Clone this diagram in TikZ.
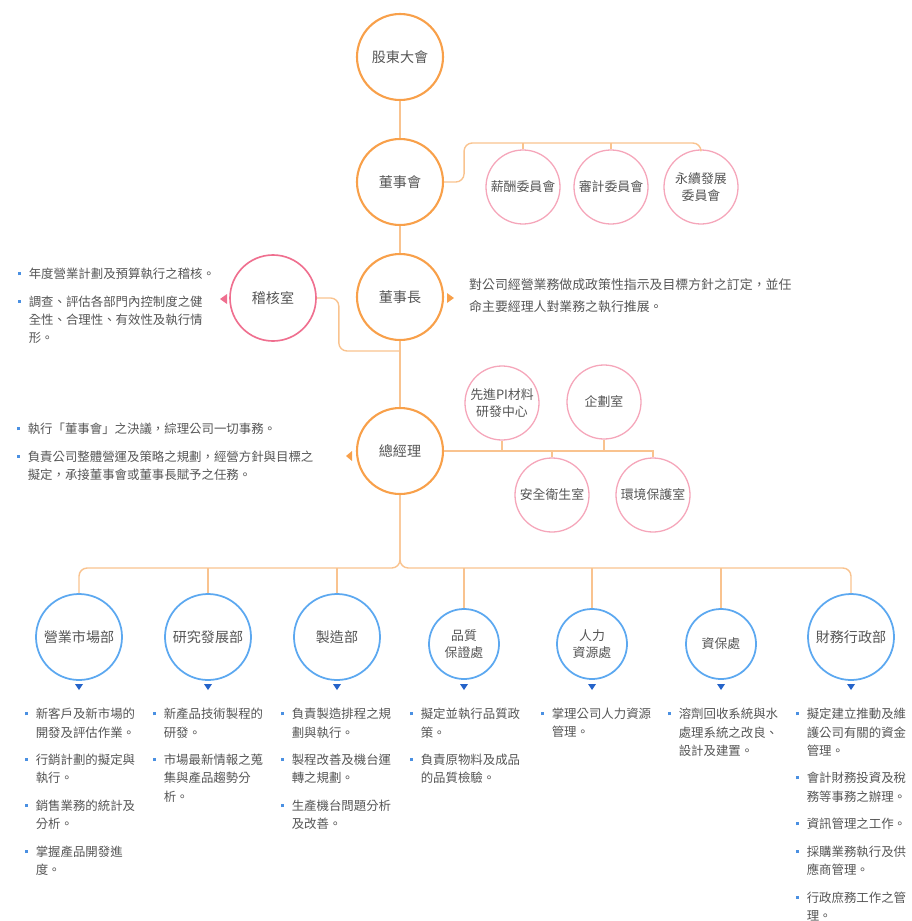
\documentclass[tikz,border=0pt]{standalone}
\usepackage{fontspec}
\setmainfont{Noto Sans CJK TC}

\definecolor{orangeC}{HTML}{F8A04A}
\definecolor{lineO}{HTML}{F9C38F}
\definecolor{pinkC}{HTML}{F5A6BA}
\definecolor{pinkD}{HTML}{EF6F8F}
\definecolor{blueC}{HTML}{5CA8F0}
\definecolor{tipB}{HTML}{2563C9}
\definecolor{textG}{HTML}{555555}
\definecolor{bulB}{HTML}{4A90E2}

% one bullet item of a list
\newcommand{\itm}[1]{\hangindent=9pt\hangafter=1\noindent\makebox[9pt][l]{\textcolor{bulB}{\rule[0.28em]{2.6pt}{2.6pt}}}#1\par\vspace{8pt}}

\begin{document}
\begin{tikzpicture}[x=0.03cm, y=-0.03cm,
    main node/.style={circle, draw=orangeC, line width=1.8pt, minimum size=2.58cm, inner sep=0, align=center, text=textG, font=\fontsize{12}{15}\selectfont},
    sub node/.style={circle, draw=pinkC, line width=1.1pt, minimum size=2.22cm, inner sep=0, align=center, text=textG, font=\fontsize{11}{14}\selectfont},
    dept node/.style={circle, draw=blueC, line width=1.5pt, minimum size=2.58cm, inner sep=0, align=center, text=textG, font=\fontsize{12}{15}\selectfont},
    link/.style={draw=lineO, line width=1.2pt},
    list/.style={anchor=north west, inner sep=0, text width=3.4cm, text=textG, font=\fontsize{10.6}{15.6}\selectfont}]
  \useasboundingbox (0,0) rectangle (911,921);

  \node[main node] (1) at (400,57) {股東大會};
  \node[main node] (2) at (400,182) {董事會};
  \node[main node] (3) at (400,297) {董事長};
  \node[main node, draw=pinkD, line width=1.4pt] (4) at (273,298) {稽核室};
  \node[main node] (5) at (400,451) {總經理};

  \node[sub node] (6) at (523,187) {薪酬委員會};
  \node[sub node] (7) at (611,187) {審計委員會};
  \node[sub node] (8) at (701,187) {永續發展\\委員會};

  \node[sub node] (9) at (502,403) {先進PI材料\\研發中心};
  \node[sub node] (10) at (604,402) {企劃室};
  \node[sub node] (11) at (552,495) {安全衛生室};
  \node[sub node] (12) at (653,495) {環境保護室};

  \node[dept node] (13) at (79,637) {營業市場部};
  \node[dept node] (14) at (208,637) {研究發展部};
  \node[dept node] (15) at (337,637) {製造部};
  \node[dept node, minimum size=2.1cm, font=\fontsize{11}{14}\selectfont] (16) at (464,644) {品質\\保證處};
  \node[dept node, minimum size=2.1cm, font=\fontsize{11}{14}\selectfont] (17) at (592,644) {人力\\資源處};
  \node[dept node, minimum size=2.1cm, font=\fontsize{11}{14}\selectfont] (18) at (721,644) {資保處};
  \node[dept node] (19) at (851,637) {財務行政部};

  \coordinate (cbus) at (701,143);
  \coordinate (jaud) at (400,351);
  \coordinate (dbus) at (400,568);

  % main line
  \path[link] (1) edge (2)
              (2) edge (3)
              (3) edge (5);

  % committees
  \draw[link] (2.east) [rounded corners=7pt] -- ++(20,0) |- (cbus) [sharp corners] -- (8.north);
  \draw[link] (6.north) -- (6 |- cbus);
  \draw[link] (7.north) -- (7 |- cbus);

  % audit
  \draw[link, rounded corners=7pt] (4.east) -- ++(22,0) |- (jaud);

  % offices of the president
  \draw[link] (5.east) -| (12.north);
  \draw[link] (9.south) -- (9 |- 5.east);
  \draw[link] (10.south) -- (10 |- 5.east);
  \draw[link] (11.north) -- (11 |- 5.east);

  % departments
  \draw[link, rounded corners=7pt] (13.north) |- (dbus) -- (5.south);
  \draw[link, rounded corners=7pt] (5.south) -- (dbus) -| (19.north);
  \draw[link] (14.north) -- (14 |- dbus);
  \draw[link] (15.north) -- (15 |- dbus);
  \draw[link] (16.north) -- (16 |- dbus);
  \draw[link] (17.north) -- (17 |- dbus);
  \draw[link] (18.north) -- (18 |- dbus);

  % small tips
  \fill[orangeC] (447,293) -- (454,298) -- (447,303) -- cycle;
  \fill[pinkD] (227,294) -- (220,299) -- (227,304) -- cycle;
  \fill[orangeC] (352,451) -- (346,456) -- (352,461) -- cycle;
  \fill[tipB] (75,684) -- (83,684) -- (79,690) -- cycle;
  \fill[tipB] (204,684) -- (212,684) -- (208,690) -- cycle;
  \fill[tipB] (333,684) -- (341,684) -- (337,690) -- cycle;
  \fill[tipB] (460,684) -- (468,684) -- (464,690) -- cycle;
  \fill[tipB] (588,684) -- (596,684) -- (592,690) -- cycle;
  \fill[tipB] (717,684) -- (725,684) -- (721,690) -- cycle;
  \fill[tipB] (847,684) -- (855,684) -- (851,690) -- cycle;

  % texts
  \node[list, text width=6cm] (t4) at (18,268) {\itm{年度營業計劃及預算執行之稽核。}\itm{調查、評估各部門內控制度之健\newline 全性、合理性、有效性及執行情\newline 形。}};
  \node[list, text width=10cm, font=\fontsize{11}{18.8}\selectfont] (t3) at (469,278) {對公司經營業務做成政策性指示及目標方針之訂定，並任\newline 命主要經理人對業務之執行推展。};
  \node[list, text width=9cm] (t5) at (17,423) {\itm{執行「董事會」之決議，綜理公司一切事務。}\itm{負責公司整體營運及策略之規劃，經營方針與目標之\newline 擬定，承接董事會或董事長賦予之任務。}};

  \node[list] (t13) at (25,708) {\itm{新客戶及新市場的\newline 開發及評估作業。}\itm{行銷計劃的擬定與\newline 執行。}\itm{銷售業務的統計及\newline 分析。}\itm{掌握產品開發進\newline 度。}};
  \node[list] (t14) at (153,708) {\itm{新產品技術製程的\newline 研發。}\itm{市場最新情報之蒐\newline 集與產品趨勢分\newline 析。}};
  \node[list] (t15) at (281,708) {\itm{負責製造排程之規\newline 劃與執行。}\itm{製程改善及機台運\newline 轉之規劃。}\itm{生產機台問題分析\newline 及改善。}};
  \node[list] (t16) at (410,708) {\itm{擬定並執行品質政\newline 策。}\itm{負責原物料及成品\newline 的品質檢驗。}};
  \node[list] (t17) at (541,708) {\itm{掌理公司人力資源\newline 管理。}};
  \node[list] (t18) at (668,708) {\itm{溶劑回收系統與水\newline 處理系統之改良、\newline 設計及建置。}};
  \node[list] (t19) at (796,708) {\itm{擬定建立推動及維\newline 護公司有關的資金\newline 管理。}\itm{會計財務投資及稅\newline 務等事務之辦理。}\itm{資訊管理之工作。}\itm{採購業務執行及供\newline 應商管理。}\itm{行政庶務工作之管\newline 理。}};
\end{tikzpicture}
\end{document}
